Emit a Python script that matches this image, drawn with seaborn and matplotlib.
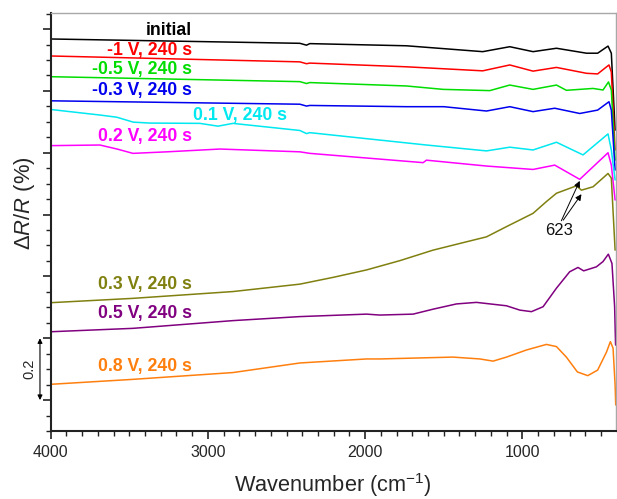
import numpy as np
import pandas as pd
import matplotlib
matplotlib.use("Agg")
import matplotlib.pyplot as plt
import matplotlib.transforms as mtransforms
from matplotlib.ticker import MultipleLocator, FixedLocator
import seaborn as sns

# ---------------- data ----------------
wn_initial = [4000, 2415, 2373, 2352, 1737, 1252, 1080, 932, 783, 592, 521, 455, 434, 410]
dr_initial = [1.268, 1.254, 1.248, 1.253, 1.246, 1.227, 1.243, 1.227, 1.238, 1.222, 1.222, 1.245, 1.222, 0.973]

wn_m1 = [4000, 2415, 2373, 2352, 1737, 1252, 1080, 932, 783, 592, 521, 449, 434, 410]
dr_m1 = [1.213, 1.194, 1.188, 1.190, 1.178, 1.165, 1.184, 1.164, 1.176, 1.157, 1.155, 1.184, 1.161, 0.909]

wn_m05 = [4000, 2415, 2373, 2352, 1737, 1504, 1207, 1080, 932, 783, 720, 550, 487, 452, 434, 410]
dr_m05 = [1.146, 1.130, 1.124, 1.127, 1.116, 1.105, 1.101, 1.119, 1.105, 1.119, 1.102, 1.108, 1.103, 1.129, 1.103, 0.876]

wn_m03 = [4000, 2415, 2373, 2352, 1737, 1500, 1228, 1080, 932, 794, 635, 521, 449, 434, 410]
dr_m03 = [1.068, 1.057, 1.051, 1.053, 1.049, 1.049, 1.035, 1.049, 1.033, 1.044, 1.027, 1.038, 1.065, 1.038, 0.844]

wn_p01 = [4000, 3687, 3580, 3475, 3370, 3051, 2936, 2841, 2415, 2373, 2352, 1610, 1228, 1080,
          932, 783, 614, 455, 434, 410]
dr_p01 = [1.040, 1.022, 1.015, 0.999, 0.996, 0.995, 0.986, 0.995, 0.972, 0.962, 0.965, 0.925,
          0.906, 0.918, 0.909, 0.934, 0.893, 0.961, 0.909, 0.812]

wn_p02 = [4000, 3687, 3578, 3477, 3260, 2924, 2415, 2352, 1631, 1610, 1228, 932, 794, 635,
          455, 434, 410]
dr_p02 = [0.923, 0.925, 0.912, 0.898, 0.903, 0.912, 0.903, 0.898, 0.868, 0.876, 0.857, 0.846,
          0.860, 0.814, 0.900, 0.860, 0.747]

wn_p03 = [4000, 3477, 2841, 2415, 2203, 1991, 1779, 1568, 1355, 1228, 1101, 932, 847, 783,
          656, 624, 550, 455, 434, 410]
dr_p03 = [0.415, 0.429, 0.451, 0.475, 0.497, 0.521, 0.551, 0.585, 0.612, 0.628, 0.661, 0.704,
          0.742, 0.769, 0.793, 0.779, 0.790, 0.833, 0.818, 0.585]

wn_p05 = [4000, 3477, 2841, 2415, 1991, 1907, 1695, 1568, 1419, 1292, 1101, 1016, 942, 868,
          783, 699, 646, 610, 529, 487, 453, 430, 413, 407]
dr_p05 = [0.321, 0.332, 0.357, 0.370, 0.378, 0.375, 0.378, 0.394, 0.411, 0.416, 0.405, 0.391,
          0.386, 0.402, 0.462, 0.515, 0.529, 0.518, 0.531, 0.548, 0.572, 0.542, 0.402, 0.278]

wn_p08 = [4000, 3477, 2841, 2415, 1991, 1907, 1441, 1270, 1186, 1101, 974, 847, 783, 720,
          650, 584, 521, 465, 440, 423, 410, 406]
dr_p08 = [0.151, 0.167, 0.189, 0.220, 0.233, 0.233, 0.239, 0.233, 0.226, 0.239, 0.262, 0.280,
          0.273, 0.239, 0.191, 0.179, 0.197, 0.255, 0.289, 0.268, 0.149, 0.084]

labels = ["initial", "-1 V, 240 s", "-0.5 V, 240 s", "-0.3 V, 240 s", "0.1 V, 240 s",
          "0.2 V, 240 s", "0.3 V, 240 s", "0.5 V, 240 s", "0.8 V, 240 s"]
colors = ["#000000", "#ff0000", "#00dd00", "#0000ee", "#00e8f0",
          "#ff00ff", "#808010", "#800080", "#ff7f0e"]
series_wn = [wn_initial, wn_m1, wn_m05, wn_m03, wn_p01, wn_p02, wn_p03, wn_p05, wn_p08]
series_dr = [dr_initial, dr_m1, dr_m05, dr_m03, dr_p01, dr_p02, dr_p03, dr_p05, dr_p08]

# label anchor positions (wavenumber, value)
label_wn = [3102, 3102, 3102, 3102, 3095, 3102, 3102, 3102, 3102]
label_y = [1.295, 1.232, 1.168, 1.100, 1.022, 0.952, 0.474, 0.381, 0.210]
label_ha = ["right", "right", "right", "right", "left", "right", "right", "right", "right"]

peak_label = "623"
x_major = [4000, 3000, 2000, 1000]

# ---------------- styling ----------------
sns.set_style("ticks")
plt.rcParams["font.family"] = ["Liberation Sans", "DejaVu Sans"]
plt.rcParams["mathtext.fontset"] = "custom"
plt.rcParams["mathtext.rm"] = "Liberation Sans"
plt.rcParams["mathtext.it"] = "Liberation Sans:italic"

rows = []
for lab, wns, drs in zip(labels, series_wn, series_dr):
    for w, d in zip(wns, drs):
        rows.append({"Wavenumber": w, "dRR": d, "series": lab})
df = pd.DataFrame(rows)

fig = plt.figure(figsize=(6.17, 4.99), dpi=100)
ax = fig.add_axes([0.0822, 0.1363, 0.9160, 0.8370])

for lab, col in zip(labels, colors):
    sub = df[df["series"] == lab]
    sns.lineplot(data=sub, x="Wavenumber", y="dRR", color=col, lw=1.1,
                 sort=False, ax=ax, legend=False)

ax.set_xlim(4000, 405)
ax.set_ylim(0, 1.351)
ax.xaxis.set_major_locator(FixedLocator(x_major))
ax.xaxis.set_minor_locator(MultipleLocator(100))
ax.yaxis.set_major_locator(MultipleLocator(0.2, offset=0.1))
ax.yaxis.set_minor_locator(MultipleLocator(0.05))
ax.set_yticklabels([])
ax.tick_params(axis="both", which="major", direction="out", length=6, width=1.2,
               labelsize=11.5, color="#222222")
ax.tick_params(axis="both", which="minor", direction="out", length=3.3, width=1.0,
               color="#222222")
ax.tick_params(axis="x", pad=4)

for side in ["left", "bottom"]:
    ax.spines[side].set_linewidth(1.5)
    ax.spines[side].set_color("#222222")
for side in ["top", "right"]:
    ax.spines[side].set_linewidth(1.0)
    ax.spines[side].set_color("#a8a8a8")

ax.set_xlabel("Wavenumber (cm$^{-1}$)", fontsize=15.7, labelpad=8)
ax.set_ylabel(r"$\Delta R/R$ (%)", fontsize=15.8)
ax.yaxis.set_label_coords(-0.025, 0.545)

for lab, col, lw_, ly, ha in zip(labels, colors, label_wn, label_y, label_ha):
    ax.text(lw_, ly, lab, color=col, fontsize=12.7, fontweight="bold",
            ha=ha, va="center")

# 623 annotation
ax.text(769, 0.650, peak_label, fontsize=12, ha="center", va="center", color="#111111")
ax.annotate("", xy=(635, 0.809), xytext=(752, 0.680),
            arrowprops=dict(arrowstyle="-|>", color="k", lw=0.7, mutation_scale=9,
                            shrinkA=0, shrinkB=0))
ax.annotate("", xy=(624, 0.766), xytext=(740, 0.682),
            arrowprops=dict(arrowstyle="-|>", color="k", lw=0.7, mutation_scale=9,
                            shrinkA=0, shrinkB=0))

# scale bar (0.2)
trans = mtransforms.blended_transform_factory(ax.transAxes, ax.transData)
ax.annotate("", xy=(-0.019, 0.1), xytext=(-0.019, 0.3), xycoords=trans, textcoords=trans,
            arrowprops=dict(arrowstyle="<|-|>", color="k", lw=0.8, mutation_scale=7,
                            shrinkA=0, shrinkB=0), annotation_clip=False)
ax.text(-0.037, 0.2, "0.2", transform=trans, rotation=90, fontsize=10.5,
        ha="center", va="center", clip_on=False)

fig.savefig("out.png", dpi=100)
